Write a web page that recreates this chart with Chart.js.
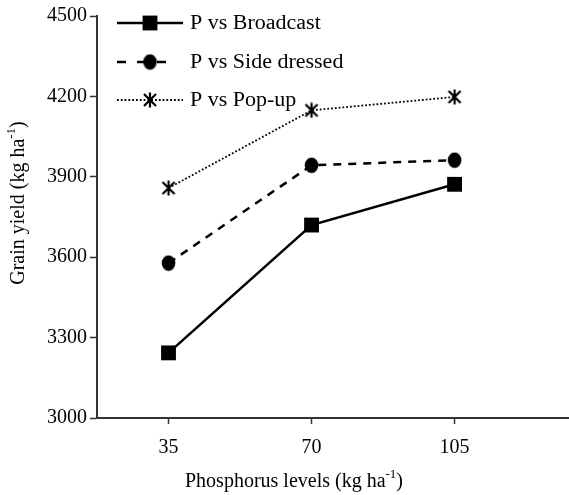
<!DOCTYPE html>
<html lang="en">
<head>
<meta charset="UTF-8" />
<title>Grain yield vs phosphorus levels</title>
<script src="https://cdn.jsdelivr.net/npm/chart.js"></script>
<style>
  html, body { margin: 0; padding: 0; background: #fff; }
  canvas { display: block; }
</style>
</head>
<body>
<canvas id="yieldChart" width="569" height="495"></canvas>
<script>
// values
const levels = [35, 70, 105];
const yTicks = [3000, 3300, 3600, 3900, 4200, 4500];
const broadcast = [3243, 3720, 3872];
const sideDressed = [3578, 3943, 3962];
const popUp = [3858, 4148, 4198];
const seriesNames = ['P vs Broadcast', 'P vs Side dressed', 'P vs Pop-up'];

const FONT = 'Liberation Serif, Times New Roman, serif';

// asterisk-like marker (X with a vertical bar)
function makeStar() {
  const c = document.createElement('canvas');
  c.width = 16; c.height = 16;
  const g = c.getContext('2d');
  g.strokeStyle = '#000';
  g.lineWidth = 2.2;
  g.beginPath();
  g.moveTo(2, 2); g.lineTo(14, 14);
  g.moveTo(14, 2); g.lineTo(2, 14);
  g.moveTo(8, 0.5); g.lineTo(8, 15.5);
  g.stroke();
  return c;
}
// slightly tall filled dot
function makeDot() {
  const c = document.createElement('canvas');
  c.width = 15; c.height = 17;
  const g = c.getContext('2d');
  g.fillStyle = '#000';
  g.beginPath();
  g.ellipse(7.5, 8.5, 6.8, 7.8, 0, 0, Math.PI * 2);
  g.fill();
  return c;
}
const star = makeStar();
const dot = makeDot();

const styles = [
  { dash: [], legendDash: [], width: 2.5, point: 'rect', radius: 10.5 },
  { dash: [8, 7], legendDash: [9, 11], width: 2.5, point: dot, radius: 8 },
  { dash: [1.8, 2], legendDash: [1.8, 2], width: 1.8, point: star, radius: 8 }
];
const series = [broadcast, sideDressed, popUp];

const datasets = series.map((vals, i) => ({
  label: seriesNames[i],
  data: vals.map((v, j) => ({ x: levels[j], y: v })),
  borderColor: '#000',
  backgroundColor: '#000',
  borderWidth: styles[i].width,
  borderDash: styles[i].dash,
  pointStyle: styles[i].point,
  pointRadius: styles[i].radius,
  pointBorderWidth: 0,
  tension: 0,
  clip: false
}));

// text with a superscript part, centred on x
function supText(ctx, before, sup, after, x, y) {
  const big = '20px ' + FONT, small = '13px ' + FONT;
  ctx.font = big; const w1 = ctx.measureText(before).width, w3 = ctx.measureText(after).width;
  ctx.font = small; const w2 = ctx.measureText(sup).width;
  let sx = x - (w1 + w2 + w3) / 2;
  ctx.textAlign = 'left';
  ctx.textBaseline = 'middle';
  ctx.font = big; ctx.fillText(before, sx, y); sx += w1;
  ctx.font = small; ctx.fillText(sup, sx, y - 7); sx += w2;
  ctx.font = big; ctx.fillText(after, sx, y);
}

const extras = {
  id: 'extras',
  afterDraw(chart) {
    const ctx = chart.ctx;
    ctx.save();
    ctx.fillStyle = '#000';
    ctx.strokeStyle = '#000';

    // legend inside the plot
    const rows = [23, 62, 100];
    rows.forEach((y, i) => {
      ctx.save();
      ctx.lineWidth = styles[i].width;
      ctx.setLineDash(styles[i].legendDash);
      ctx.beginPath();
      ctx.moveTo(117, y);
      ctx.lineTo(i === 1 ? 170 : 183, y);
      ctx.stroke();
      ctx.setLineDash([]);
      Chart.helpers.drawPoint(ctx, { pointStyle: styles[i].point, radius: styles[i].radius, rotation: 0, borderWidth: 0 }, 150, y);
      ctx.restore();
      ctx.save();
      ctx.translate(190, y + 1);
      ctx.scale(1.1, 1);
      ctx.font = '20px ' + FONT;
      ctx.textAlign = 'left';
      ctx.textBaseline = 'middle';
      ctx.fillText(seriesNames[i], 0, 0);
      ctx.restore();
    });

    // axis titles
    supText(ctx, 'Phosphorus levels (kg ha', '-1', ')', 294, 482);
    ctx.save();
    ctx.translate(19, 203);
    ctx.rotate(-Math.PI / 2);
    supText(ctx, 'Grain yield (kg ha', '-1', ')', 0, 0);
    ctx.restore();
    ctx.restore();
  }
};

new Chart(document.getElementById('yieldChart'), {
  type: 'line',
  data: { datasets: datasets },
  options: {
    responsive: false,
    animation: false,
    layout: { autoPadding: false, padding: { top: 16, left: 0, right: 0, bottom: 0 } },
    plugins: { legend: { display: false }, tooltip: { enabled: false } },
    scales: {
      x: {
        type: 'linear',
        min: 17.5,
        max: 133,
        afterBuildTicks: s => { s.ticks = levels.map(v => ({ value: v })); },
        afterFit: s => { s.height = 77; s.paddingLeft = 0; s.paddingRight = 0; },
        grid: { drawOnChartArea: false, tickLength: 6, tickColor: '#333', tickWidth: 1.5 },
        border: { color: '#333', width: 2 },
        ticks: { color: '#000', font: { family: FONT, size: 20 }, padding: 12, maxRotation: 0, autoSkip: false, callback: v => String(v) }
      },
      y: {
        min: 3000,
        max: 4500,
        afterBuildTicks: s => { s.ticks = yTicks.map(v => ({ value: v })); },
        afterFit: s => { s.width = 97; },
        grid: { drawOnChartArea: false, tickLength: 7, tickColor: '#333', tickWidth: 1.5 },
        border: { color: '#333', width: 2 },
        ticks: { color: '#000', font: { family: FONT, size: 20 }, padding: 3, autoSkip: false, callback: v => String(v) }
      }
    }
  },
  plugins: [extras]
});
</script>
</body>
</html>
